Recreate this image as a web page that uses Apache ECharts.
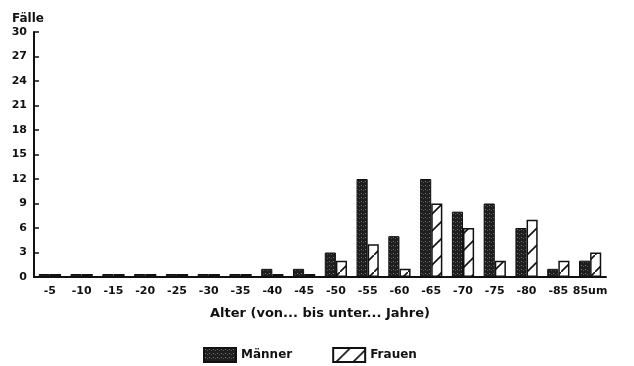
<!DOCTYPE html>
<html>
<head>
<meta charset="utf-8">
<script src="https://cdn.jsdelivr.net/npm/echarts@6/dist/echarts.min.js"></script>
<style>html,body{margin:0;padding:0;background:#fff}#c{width:634px;height:366px}</style>
</head>
<body>
<div id="c"></div>
<script>
var categories = ['-5','-10','-15','-20','-25','-30','-35','-40','-45','-50','-55','-60','-65','-70','-75','-80','-85','85um'];
var men   = [0,0,0,0,0,0,0,1,1,3,12,5,12,8,9,6,1,2];
var women = [0,0,0,0,0,0,0,0,0,2,4,1,9,6,2,7,2,3];
var yTicks = [0,3,6,9,12,15,18,21,24,27,30];

function hatchPattern() {
  var c = document.createElement('canvas');
  c.width = 17; c.height = 17;
  var g = c.getContext('2d');
  g.fillStyle = '#fff'; g.fillRect(0,0,17,17);
  g.strokeStyle = '#111'; g.lineWidth = 1.6;
  g.beginPath(); g.moveTo(-2,19); g.lineTo(19,-2); g.stroke();
  return c;
}
function stipplePattern() {
  var c = document.createElement('canvas');
  c.width = 4; c.height = 4;
  var g = c.getContext('2d');
  g.fillStyle = '#1e1e1e'; g.fillRect(0,0,4,4);
  g.fillStyle = '#7a7a7a'; g.fillRect(1,1,1,1);
  g.fillStyle = '#555'; g.fillRect(3,2,1,1);
  return c;
}
var font = '"DejaVu Sans", "Liberation Sans", Arial, sans-serif';
var chart = echarts.init(document.getElementById('c'));
chart.setOption({
  animation: false,
  title: { text: 'Fälle', left: 7, top: 8, textStyle: { fontFamily: font, fontWeight: 'bold', fontSize: 12, color: '#111' } },
  grid: { left: 34, right: 28, top: 32, bottom: 89 },
  legend: {
    top: 342, left: 198, itemWidth: 32, itemHeight: 14, itemGap: 40, icon: 'rect',
    textStyle: { fontFamily: font, fontWeight: 'bold', fontSize: 12, color: '#111' },
    data: ['Männer','Frauen']
  },
  xAxis: {
    type: 'category', data: categories,
    name: 'Alter (von... bis unter... Jahre)', nameLocation: 'middle', nameGap: 30,
    nameTextStyle: { fontFamily: font, fontWeight: 'bold', fontSize: 13, color: '#111' },
    axisLine: { lineStyle: { color: '#111', width: 2 } },
    axisTick: { show: false },
    axisLabel: { interval: 0, margin: 9, fontFamily: font, fontWeight: 'bold', fontSize: 11, color: '#111' }
  },
  yAxis: {
    type: 'value', min: 0, max: 30, interval: 3,
    axisLine: { show: true, lineStyle: { color: '#111', width: 2 } },
    axisTick: { show: true, inside: true, length: 5, lineStyle: { color: '#111', width: 1.5 } },
    splitLine: { show: false },
    axisLabel: { margin: 7, fontFamily: font, fontWeight: 'bold', fontSize: 11, color: '#111',
      formatter: function (v) { return yTicks.indexOf(v) >= 0 ? String(v) : ''; } }
  },
  series: [
    { name: 'Männer', type: 'bar', data: men, barGap: '0%', barCategoryGap: '30%', barMinHeight: 3,
      itemStyle: { color: { image: stipplePattern(), repeat: 'repeat' }, borderColor: '#111', borderWidth: 1 } },
    { name: 'Frauen', type: 'bar', data: women, barMinHeight: 3,
      itemStyle: { color: { image: hatchPattern(), repeat: 'repeat' }, borderColor: '#111', borderWidth: 1.5 } }
  ]
});
</script>
</body>
</html>
